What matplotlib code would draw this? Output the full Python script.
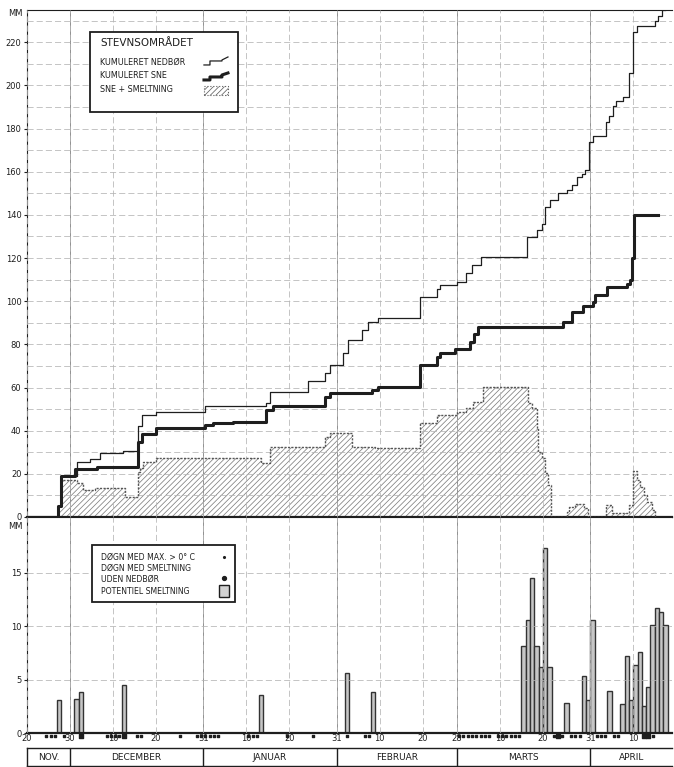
import numpy as np
import matplotlib
matplotlib.use('Agg')
import matplotlib.pyplot as plt
from matplotlib.patches import Rectangle

plt.rcParams['font.family'] = ['DejaVu Sans']
plt.rcParams['hatch.color'] = '#808080'
plt.rcParams['hatch.linewidth'] = 0.55

# x = days counted from 20 November
tick_days = [0, 10, 20, 30, 41, 51, 61, 72, 82, 92, 100, 110, 120, 131, 141]
tick_labels = ['20', '30', '10', '20', '31', '10', '20', '31', '10', '20', '28', '10', '20', '31', '10']
months = ['NOV.', 'DECEMBER', 'JANUAR', 'FEBRUAR', 'MARTS', 'APRIL']
month_edges = [0, 10, 41, 72, 100, 131, 150]

# kumuleret nedbør (step starts)
precip_days = [0, 7.2, 8, 11.6, 14.6, 17, 22.4, 25.9, 26.7, 30, 41.4, 55.7, 56.5, 65.4, 69.3,
               70.5, 73.5, 74.7, 78, 79.3, 81.6, 91.4, 95.3, 96, 100, 102, 103.5, 105.5,
               116.3, 118.6, 119.8, 120.5, 121.6, 123.5, 125.6, 126.7, 128, 129, 129.8,
               130.8, 131.6, 134.6, 135.4, 136.3, 137, 138.6, 140, 141, 141.8, 146, 146.8,
               147.7, 148.4]
precip_vals = [0, 5, 19, 25.5, 27, 29.6, 30.7, 42, 47.2, 48.7, 51.4, 53, 58, 63, 66.6,
               70.4, 76, 82, 86.6, 90.4, 92, 102, 105.5, 107.4, 109, 113, 116.7, 120.5,
               129.8, 133, 136, 143.7, 147, 150, 151.4, 153.7, 157.5, 159, 160.6,
               173.7, 176.8, 183, 186, 190.7, 193, 194.6, 206, 224.7, 227.8, 230, 232.4,
               235, 235]

# kumuleret sne
snow_days = [0, 7.2, 8, 11.2, 16.2, 25.9, 26.7, 30, 41.4, 43.3, 48, 55.7, 57.3, 69.3, 70.5,
             80.2, 81.6, 91.4, 95.3, 96, 99.5, 103, 104, 105, 124.7, 126.7, 129.4, 131.6,
             132, 134.9, 139.5, 140.2, 140.8, 141.2, 146.8]
snow_vals = [0, 5, 19, 22, 23.3, 34.9, 38.4, 41.4, 42.5, 43.5, 44, 49.5, 51.4, 55.7, 57.3,
             58.8, 60.3, 70.4, 74.2, 75.9, 78, 81, 85, 88, 90.4, 95, 98, 99.7,
             102.8, 106.6, 108.2, 109.7, 120, 139.8, 139.8]

# sne + smeltning
pack_days = [0, 7.2, 8, 11.6, 13, 15.8, 22.8, 25.9, 26.3, 27, 30, 54.5, 56.5, 69.3, 70.5,
             75.6, 81, 91.4, 95.3, 100, 102, 103.8, 106, 116.6, 117.4, 118.5, 118.9, 119.7,
             120.5, 121.2, 121.8, 125.5, 126, 127.5, 129.5, 130.5, 134.7, 136, 139.9, 141,
             141.8, 142.5, 143.5, 144.2, 145.3, 146]
pack_vals = [0, 5, 17, 15.7, 12.5, 13.4, 9.4, 21, 22.6, 25.6, 27.3, 25, 32.6, 37.2, 38.9,
             32.6, 31.9, 43.5, 47.2, 48.8, 50.5, 53.4, 60.3, 52.6, 50.5, 41.2, 30.3, 27.3,
             20.4, 14.8, 0, 2.5, 4.8, 5.9, 4, 0, 5.6, 2, 5.6, 21.4,
             17, 14, 10.2, 7.1, 3.2, 0]

# potentiel smeltning (mm/døgn)
melt_days = [7, 11, 12, 22, 54, 74, 80, 115, 116, 117, 118, 119, 120, 121, 125, 129, 130, 131,
             135, 138, 139, 140, 141, 142, 143, 144, 145, 146, 147, 148]
melt_vals = [3.1, 3.2, 3.8, 4.5, 3.6, 5.6, 3.8, 8.1, 10.6, 14.5, 8.1, 6.2, 17.3, 6.2, 2.8, 5.3,
             3.1, 10.6, 3.9, 2.7, 7.2, 3.1, 6.4, 7.6, 2.5, 4.3, 10.1, 11.7, 11.3, 10.1]

# døgn med max > 0 °C
warm_days = [4, 5, 6, 8, 18, 19, 20, 21, 25, 26, 35, 39, 40, 41, 42, 43, 44, 51, 52, 53, 60,
             66, 74, 78, 79, 100, 101, 102, 103, 104, 105, 106, 107, 109, 110, 111, 112, 113,
             114, 122, 124, 126, 127, 128, 132, 133, 134, 136, 137, 145]
# døgn med smeltning uden nedbør
dry_melt_days = [12, 22, 123, 143, 144]

legend1_title = 'STEVNSOMRÅDET'
legend1_labels = ['KUMULERET NEDBØR', 'KUMULERET SNE', 'SNE + SMELTNING']
legend2_labels = ['DØGN MED MAX. > 0° C', 'DØGN MED SMELTNING', 'UDEN NEDBØR', 'POTENTIEL SMELTNING']

fig = plt.figure(figsize=(6.74, 7.67), dpi=100)
ax1 = fig.add_axes([0.040, 0.326, 0.957, 0.661])
ax2 = fig.add_axes([0.040, 0.0443, 0.957, 0.2816])
ax3 = fig.add_axes([0.040, 0.0013, 0.957, 0.0235])

ink = '#1e1e1e'
for ax in (ax1, ax2):
    ax.set_xlim(0, 150)
    ax.set_xticks(tick_days)
    ax.set_axisbelow(False)
    ax.grid(True, which='both', color='#b4b4b4', lw=0.55, ls=(0, (8, 4)))
    ax.spines['right'].set_visible(False)
    for s in ('left', 'bottom', 'top'):
        ax.spines[s].set_color(ink)
    ax.spines['bottom'].set_linewidth(1.6)
    ax.tick_params(axis='y', labelsize=6, length=2, pad=2, colors=ink)
    for d in month_edges[1:-1]:
        ax.axvline(d, color='#909090', lw=0.7, zorder=2.5)


def px1(x, y):
    # pixel position -> axes fraction of the top panel
    return (x - 27) / 645, (517 - y) / 507


def px2(x, y):
    return (x - 27) / 645, (733 - y) / 216


# top panel
ax1.set_ylim(0, 235)
ax1.set_yticks(range(0, 221, 20))
ax1.set_yticks(range(10, 235, 20), minor=True)
ax1.tick_params(axis='x', labelbottom=False, length=0)
ax1.tick_params(axis='y', which='minor', length=0)
ax1.fill_between(pack_days, pack_vals, step='post', facecolor='white',
                 hatch='//////', edgecolor='#808080', lw=0, zorder=2)
ax1.step(pack_days, pack_vals, where='post', color='#555555', lw=1.0, ls=(0, (1.5, 1)), zorder=3)
ax1.step(precip_days, precip_vals, where='post', color=ink, lw=0.9, zorder=4)
ax1.step(snow_days, snow_vals, where='post', color=ink, lw=2.2, zorder=5)
ax1.text(-0.006, 0.993, 'MM', transform=ax1.transAxes, ha='right', va='center', fontsize=6, color=ink)

# top legend box
x0, y0 = px1(90, 112)
x1, y1 = px1(238, 32)
ax1.add_patch(Rectangle((x0, y0), x1 - x0, y1 - y0, transform=ax1.transAxes, facecolor='white',
                        edgecolor=ink, lw=1.3, zorder=6))
ax1.text(*px1(100, 43), legend1_title, transform=ax1.transAxes, fontsize=7.5, color=ink,
         va='center', ha='left', zorder=7)
for i, lab in enumerate(legend1_labels):
    yy = [62, 76, 90][i]
    ax1.text(*px1(100, yy), lab, transform=ax1.transAxes, fontsize=5.8, color=ink,
             va='center', ha='left', zorder=7)
sx = [px1(x, 0)[0] for x in (204, 210, 222, 228)]
sy = [px1(0, y)[1] for y in (65, 61, 60, 57)]
ax1.plot([sx[0], sx[1], sx[1], sx[2], sx[2], sx[3]], [sy[0], sy[0], sy[1], sy[1], sy[2], sy[3]],
         transform=ax1.transAxes, color=ink, lw=0.9, zorder=7)
sy2 = [px1(0, y)[1] for y in (80, 77, 75, 73)]
ax1.plot([sx[0], sx[1], sx[1], sx[2], sx[2], sx[3]], [sy2[0], sy2[0], sy2[1], sy2[1], sy2[2], sy2[3]],
         transform=ax1.transAxes, color=ink, lw=2.2, zorder=7)
hx, hy = px1(204, 95)
hw, hh = px1(228, 86)
ax1.add_patch(Rectangle((hx, hy), hw - hx, hh - hy, transform=ax1.transAxes, facecolor='white',
                        hatch='//////', edgecolor='#606060', lw=0.8, ls=':', zorder=7))

# bottom panel
ax2.set_ylim(0, 20.2)
ax2.set_yticks([0, 5, 10, 15])
ax2.tick_params(axis='x', labelsize=6, length=0, pad=1, colors=ink)
ax2.set_xticklabels(tick_labels)
ax2.bar(melt_days, melt_vals, width=1.0, align='edge', facecolor='#c6c6c6',
        edgecolor='#333333', lw=1.0, zorder=2)
ax2.scatter(np.array(warm_days) + 0.5, np.full(len(warm_days), -0.25), s=1.2, marker='s',
            color=ink, clip_on=False, zorder=4)
ax2.scatter(np.array(dry_melt_days) + 0.5, np.full(len(dry_melt_days), -0.3), s=6, marker='s',
            color=ink, clip_on=False, zorder=4)
ax2.text(-0.006, 0.955, 'MM', transform=ax2.transAxes, ha='right', va='center', fontsize=6, color=ink)

# bottom legend box
x0, y0 = px2(92, 602)
x1, y1 = px2(235, 545)
ax2.add_patch(Rectangle((x0, y0), x1 - x0, y1 - y0, transform=ax2.transAxes, facecolor='white',
                        edgecolor=ink, lw=1.3, zorder=6))
for lab, yy in zip(legend2_labels, [557, 568, 579, 591]):
    ax2.text(*px2(101, yy), lab, transform=ax2.transAxes, fontsize=5.6, color=ink,
             va='center', ha='left', zorder=7)
ax2.plot(*px2(224, 557), transform=ax2.transAxes, ls='', marker='.', ms=2.5, color=ink, zorder=7)
ax2.plot(*px2(224, 578), transform=ax2.transAxes, ls='', marker='o', ms=2.8, color=ink, zorder=7)
bx, by = px2(219, 597)
bw, bh = px2(229, 585)
ax2.add_patch(Rectangle((bx, by), bw - bx, bh - by, transform=ax2.transAxes, facecolor='#d2d2d2',
                        edgecolor=ink, lw=1.0, zorder=7))

# month band
ax3.set_xlim(0, 150)
ax3.set_ylim(0, 1)
ax3.set_xticks([])
ax3.set_yticks([])
for s in ax3.spines.values():
    s.set_color(ink)
    s.set_linewidth(1.0)
ax3.spines['right'].set_visible(False)
for i, name in enumerate(months):
    if i > 0:
        ax3.axvline(month_edges[i], color=ink, lw=1.0)
    ax3.text((month_edges[i] + month_edges[i + 1]) / 2, 0.48, name, ha='center', va='center',
             fontsize=6.5, color=ink)

fig.savefig('out.png', dpi=100)
